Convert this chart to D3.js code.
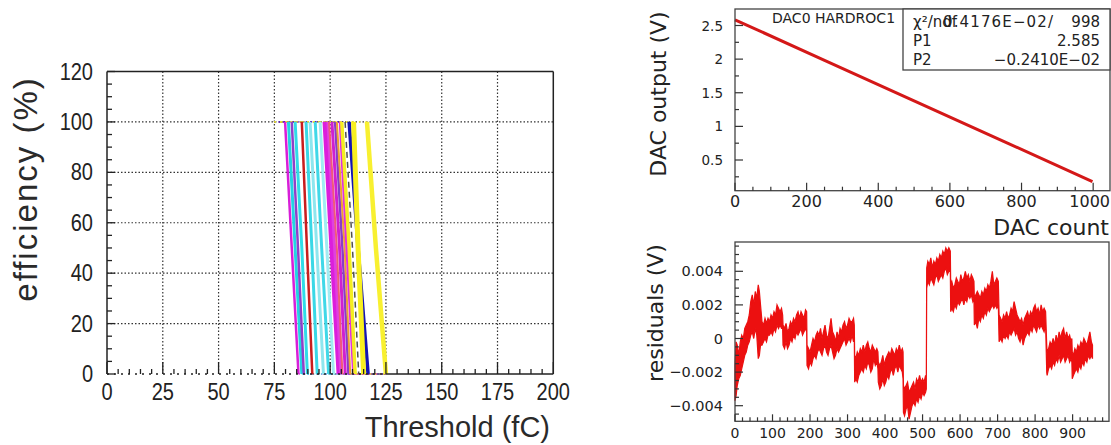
<!DOCTYPE html>
<html><head><meta charset="utf-8">
<script src="https://cdn.jsdelivr.net/npm/d3@7"></script>
<style>html,body{margin:0;padding:0;background:#fff;} svg{display:block}</style>
</head><body>
<svg id="c" width="1111" height="445"></svg>
<script>
// ---------------- DATA ----------------
// Left panel: efficiency vs threshold
const effTicks = [0, 20, 40, 60, 80, 100, 120];
const thrTicks = [0, 25, 50, 75, 100, 125, 150, 175, 200];
const curveEff = [100, 50, 0];               // efficiency levels (%) of each curve point
const curveTop = [79.8, 81.3, 82.8, 84.3, 87.3, 89.2, 91.0, 93.3, 95.5, 97.7, 99.0, 99.5, 100.8, 102.2, 103.0, 104.5, 105.2, 106.7, 108.5, 110.5, 116.5];
const curveMid = [82.8, 84.3, 85.6, 87.3, 89.6, 91.8, 94.0, 96.2, 98.5, 100.8, 102.0, 103.0, 104.2, 105.5, 106.5, 107.5, 108.5, 110.0, 112.5, 112.5, 120.5];
const curveBottom = [85.8, 87.3, 88.2, 89.8, 92.0, 94.2, 97.0, 99.3, 101.5, 104.0, 104.8, 105.5, 106.8, 108.2, 109.0, 110.5, 111.2, 112.8, 117.0, 115.0, 125.0];
// styles per curve
const curveColors = ["#d81ed8", "#22d4e4", "#9040c8", "#30dce8", "#c81e1e", "#3ad8e6", "#8ee6ee", "#40d8e8", "#a0ecf2", "#dc1edc", "#e040e0", "#f05a78", "#d020d0", "#8a3cc8", "#f0a030", "#e030e0", "#f4ee20", "#505050", "#1414b4", "#f8f020", "#f8f030"];
const curveWidths = [2.5, 3, 2.5, 3, 2.5, 3, 3, 3, 3, 5, 3, 2, 3, 2.5, 2, 3, 3.5, 1.5, 3.5, 5, 4.5];
const curveDash = [null, null, null, null, null, null, null, null, null, null, null, null, null, null, null, null, null, "6,4", null, null, null];

// Top right: DAC output vs DAC count
const dacCount = [0, 250, 500, 750, 998];
const dacOutput = [2.585, 1.983, 1.380, 0.778, 0.180];
const dacTicksY = [0.5, 1, 1.5, 2, 2.5];
const dacTickLabelsY = ["0.5", "1", "1.5", "2", "2.5"];
const dacTicksX = [0, 200, 400, 600, 800, 1000];
const fitTitle = "DAC0 HARDROC1";
const fitStats = [["χ²/ndf", "0.4176E−02/", "998"], ["P1", "", "2.585"], ["P2", "", "−0.2410E−02"]];

// Bottom right: residuals (mV) band: [DAC count, low, high]
const resTicksY = [-4, -2, 0, 2, 4];
const resTickLabelsY = ["−0.004", "−0.002", "0", "0.002", "0.004"];
const resTicksX = [0, 100, 200, 300, 400, 500, 600, 700, 800, 900];
const residualBand = [
 [0,-3.7,-1.6],[3,-3.4,-0.2],[6,-2.8,-0.4],[10,-2.4,-1.0],[14,-2.2,-0.2],[18,-1.8,0.2],[22,-1.4,0.0],[26,-1.0,0.6],
 [30,-0.8,0.8],[34,-0.4,1.0],[38,-0.2,1.4],[42,0.2,2.2],[46,0.4,2.6],[50,0.0,2.0],[54,0.6,2.8],[58,0.2,2.4],
 [62,-1.2,3.2],[65,-1.0,2.8],[68,-0.4,2.0],[72,-0.4,1.0],[76,-0.2,0.8],[80,0.0,1.2],[84,-0.2,0.9],[88,0.2,1.2],
 [92,0.2,1.0],[96,0.4,1.4],[100,0.2,1.2],[104,0.6,1.6],[108,0.4,1.4],[112,0.8,2.0],[116,0.6,1.8],[120,0.8,1.6],
 [124,0.6,1.8],[127,0.6,1.4],[128,-0.4,0.8],[132,-0.6,0.6],[136,-0.2,0.9],[140,-0.6,0.4],[144,-0.4,0.6],[148,0.0,1.0],
 [152,-0.2,0.8],[156,0.2,1.2],[160,0.0,1.0],[164,0.4,1.4],[168,0.2,1.6],[172,0.4,1.2],[176,0.6,1.6],[180,0.2,1.4],
 [184,0.4,1.2],[188,0.6,1.7],[191,0.4,1.6],[192,-1.6,-0.4],[196,-1.8,-0.6],[200,-1.4,-0.8],[204,-1.6,-0.4],[208,-1.2,0.0],
 [212,-1.0,-0.2],[216,-1.2,0.2],[220,-0.8,0.4],[224,-0.6,0.2],[228,-0.8,0.6],[232,-1.0,0.0],[236,-0.6,0.4],[240,-0.4,0.8],
 [244,-0.8,0.2],[248,-1.0,0.0],[252,-0.6,0.6],[256,-0.4,1.2],[260,-0.8,0.4],[264,-1.2,0.2],[268,-1.0,-0.2],[272,-0.6,0.4],
 [276,-0.8,0.0],[280,-0.6,0.6],[284,-0.4,0.4],[288,-0.2,0.8],[292,0.0,1.0],[296,-0.4,0.6],[300,-0.2,0.8],[304,0.0,1.2],
 [308,-0.2,1.0],[312,0.2,1.0],[316,-0.2,1.2],[318,0.0,0.8],[319,-2.6,-1.0],[322,-2.4,-1.2],[326,-2.6,-0.8],[330,-2.2,-1.0],
 [334,-2.0,-0.6],[338,-1.8,-0.8],[342,-2.0,-0.4],[346,-1.6,-0.8],[350,-1.8,-0.4],[354,-1.4,-0.2],[358,-1.6,-0.6],[362,-2.0,-0.8],
 [366,-1.8,-0.4],[370,-1.2,-0.6],[374,-1.6,-0.8],[378,-1.4,-0.6],[381,-1.8,-0.8],[382,-2.6,-1.4],[386,-3.0,-1.6],[390,-2.8,-1.4],
 [394,-2.4,-1.0],[398,-2.8,-1.6],[402,-2.6,-1.2],[406,-2.2,-1.0],[410,-2.4,-0.8],[414,-2.0,-1.0],[418,-1.8,-0.6],[422,-2.2,-0.8],
 [426,-1.8,-1.0],[430,-1.6,-0.6],[434,-2.0,-0.8],[438,-1.6,-0.4],[442,-1.8,-0.8],[446,-2.0,-0.6],[448,-2.4,-0.8],[449,-4.4,-2.8],
 [452,-4.6,-3.0],[456,-4.2,-2.8],[460,-4.0,-2.6],[464,-4.8,-3.2],[468,-4.4,-3.0],[472,-4.0,-2.8],[476,-3.8,-2.6],[480,-4.0,-3.0],
 [484,-3.6,-2.4],[488,-3.8,-2.6],[492,-3.4,-2.2],[496,-3.6,-2.6],[500,-3.2,-2.4],[504,-3.4,-2.6],[508,-3.2,-2.2],[510,-3.0,-2.4],
 [511,3.0,4.2],[514,3.4,4.6],[518,3.2,4.4],[522,3.6,4.8],[526,3.4,4.2],[530,3.2,4.6],[534,3.6,4.4],[538,3.8,4.8],
 [542,3.4,4.6],[546,3.6,5.0],[550,3.8,4.8],[554,3.6,5.2],[558,4.0,5.0],[562,4.2,5.4],[566,3.8,5.2],[570,4.0,5.4],
 [574,4.0,5.2],[575,1.6,3.2],[578,1.8,3.4],[582,1.6,3.0],[586,2.0,3.2],[590,1.8,3.6],[594,2.2,3.4],[598,2.0,3.2],
 [602,2.2,3.8],[606,2.4,3.4],[610,2.0,3.6],[614,2.4,4.0],[618,2.2,3.6],[622,2.6,3.8],[626,2.4,3.4],[630,2.6,3.8],
 [634,2.2,3.6],[637,2.4,3.4],[638,0.8,2.4],[642,1.0,2.6],[646,0.6,2.8],[650,1.2,2.6],[654,1.0,2.4],[658,1.4,2.8],
 [662,1.2,2.6],[666,1.6,3.0],[670,1.4,2.8],[674,1.8,3.2],[678,1.6,3.0],[682,1.8,3.4],[686,2.0,4.0],[690,1.8,3.2],
 [694,2.0,3.4],[698,1.8,3.6],[702,2.0,3.4],[704,-0.2,1.4],[708,0.0,1.2],[712,-0.2,1.0],[716,0.2,1.4],[720,0.0,1.2],
 [724,0.2,1.6],[728,0.0,1.2],[732,0.4,1.4],[736,0.2,1.8],[740,0.4,1.6],[744,0.6,2.2],[748,0.2,1.8],[752,0.4,1.4],
 [756,0.0,1.2],[760,-0.2,1.0],[764,0.2,1.2],[768,-0.4,0.8],[772,0.0,1.2],[776,0.2,1.4],[780,0.4,1.6],[784,0.2,1.2],
 [788,0.6,1.6],[792,0.4,1.4],[796,0.8,1.8],[800,0.6,2.0],[804,0.4,1.6],[808,0.8,1.8],[812,0.6,1.4],[816,0.8,2.0],
 [820,0.6,1.6],[824,0.4,1.8],[828,0.8,1.6],[831,-2.0,-0.4],[832,-2.2,-0.8],[836,-1.8,-0.6],[840,-1.6,-0.2],[844,-1.8,-0.4],
 [848,-1.4,0.0],[852,-1.6,-0.4],[856,-1.2,0.2],[860,-1.4,-0.2],[864,-1.0,0.4],[868,-1.4,0.0],[872,-1.2,0.4],[876,-1.0,0.6],
 [880,-1.4,0.0],[884,-1.2,0.4],[888,-1.0,0.0],[892,-1.4,0.2],[896,-1.2,-0.2],[898,-1.4,0.0],[899,-2.4,-0.8],[902,-2.2,-1.0],
 [906,-2.0,-0.6],[910,-1.8,-0.8],[914,-2.0,-0.4],[918,-1.6,-0.6],[922,-1.8,-0.2],[926,-1.4,-0.4],[930,-1.6,0.0],[934,-1.2,-0.2],
 [938,-1.4,-0.4],[942,-1.0,0.0],[946,-1.2,0.4],[950,-1.0,-0.2],[953,-1.2,-0.4]
];

// ---------------- DRAWING ----------------
const svg = d3.select("#c");
const AX = "#222";

// ===== LEFT PANEL =====
const xL = d3.scaleLinear().domain([0, 200]).range([107, 553.3]);
const yL = d3.scaleLinear().domain([0, 120]).range([374, 71.5]);
const gL = svg.append("g");

// grid
gL.selectAll("line.gx").data(thrTicks.filter(v => v > 0 && v < 200)).join("line")
  .attr("x1", d => xL(d)).attr("x2", d => xL(d)).attr("y1", yL(0)).attr("y2", yL(120))
  .attr("stroke", "#333").attr("stroke-width", 1.2).attr("stroke-dasharray", "1.5,2");
gL.selectAll("line.gy").data(effTicks.filter(v => v > 0 && v < 120)).join("line")
  .attr("x1", xL(0)).attr("x2", xL(200)).attr("y1", d => yL(d)).attr("y2", d => yL(d))
  .attr("stroke", "#333").attr("stroke-width", 1.2).attr("stroke-dasharray", "1.5,2");

// plateaus (marker rows)
curveTop.forEach((t, i) => {
  gL.append("line").attr("x1", xL(75)).attr("x2", xL(t)).attr("y1", yL(100)).attr("y2", yL(100))
    .attr("stroke", curveColors[i]).attr("stroke-width", 1.6).attr("stroke-dasharray", "1.5," + (3 + i % 3)).attr("opacity", 0.8);
  gL.append("line").attr("x1", xL(curveBottom[i])).attr("x2", xL(125)).attr("y1", yL(0)).attr("y2", yL(0))
    .attr("stroke", curveColors[i]).attr("stroke-width", 1.6).attr("stroke-dasharray", "1.5," + (3 + i % 3)).attr("opacity", 0.8);
});
const lineL = d3.line().x(d => xL(d[0])).y(d => yL(d[1]));
curveTop.forEach((t, i) => {
  const pts = [[t, curveEff[0]], [curveMid[i], curveEff[1]], [curveBottom[i], curveEff[2]]];
  gL.append("path").attr("d", lineL(pts)).attr("fill", "none")
    .attr("stroke", curveColors[i]).attr("stroke-width", curveWidths[i])
    .attr("stroke-dasharray", curveDash[i]).attr("stroke-linejoin", "round");
});

// frame
gL.append("line").attr("x1", xL(0)).attr("x2", xL(0)).attr("y1", yL(0)).attr("y2", yL(120)).attr("stroke", AX).attr("stroke-width", 1.5);
gL.append("line").attr("x1", xL(0)).attr("x2", xL(200)).attr("y1", yL(120)).attr("y2", yL(120)).attr("stroke", AX).attr("stroke-width", 1.5);
gL.append("line").attr("x1", xL(200)).attr("x2", xL(200)).attr("y1", yL(0)).attr("y2", yL(120)).attr("stroke", AX).attr("stroke-width", 1.5);
gL.append("line").attr("x1", xL(125)).attr("x2", xL(200)).attr("y1", yL(0)).attr("y2", yL(0)).attr("stroke", AX).attr("stroke-width", 1.5);
gL.append("line").attr("x1", xL(0)).attr("x2", xL(125)).attr("y1", yL(0)).attr("y2", yL(0)).attr("stroke", AX).attr("stroke-width", 1.5).attr("stroke-dasharray", "2,5");

// ticks
gL.selectAll("line.ty").data(d3.range(0, 121, 5)).join("line")
  .attr("x1", xL(0)).attr("x2", d => xL(0) + (d % 20 === 0 ? 8 : 5))
  .attr("y1", d => yL(d)).attr("y2", d => yL(d)).attr("stroke", AX).attr("stroke-width", 1.3);
gL.selectAll("line.tx").data(d3.range(0, 201, 5)).join("line")
  .attr("x1", d => xL(d)).attr("x2", d => xL(d))
  .attr("y1", yL(0)).attr("y2", d => yL(0) - (d % 25 === 0 ? 12 : 5)).attr("stroke", AX).attr("stroke-width", 1.3);

// tick labels
gL.selectAll("text.ly").data(effTicks).join("text")
  .attr("transform", d => `translate(93,${yL(d) + 8}) scale(0.87,1)`)
  .attr("text-anchor", "end").attr("font-family", "Liberation Sans, Arial, sans-serif")
  .attr("font-size", 23).attr("fill", "#222").text(d => d);
gL.selectAll("text.lx").data(thrTicks).join("text")
  .attr("transform", d => `translate(${xL(d)},400) scale(0.87,1)`)
  .attr("text-anchor", "middle").attr("font-family", "Liberation Sans, Arial, sans-serif")
  .attr("font-size", 23).attr("fill", "#222").text(d => d);

// titles
gL.append("text").attr("transform", "translate(37,189) rotate(-90)").attr("text-anchor", "middle")
  .attr("font-family", "Liberation Sans, Arial, sans-serif").attr("font-size", 33).attr("letter-spacing", 2)
  .attr("fill", "#2a2a2a").text("efficiency (%)");
gL.append("text").attr("x", 550).attr("y", 437).attr("text-anchor", "end")
  .attr("font-family", "Liberation Sans, Arial, sans-serif").attr("font-size", 29)
  .attr("fill", "#2a2a2a").text("Threshold (fC)");

// ===== TOP RIGHT =====
const FR = "DejaVu Sans, sans-serif";
const xT = d3.scaleLinear().domain([0, 1047]).range([735, 1110]);
const yT = d3.scaleLinear().domain([0.5, 2.5]).range([160, 25.5]);
const gT = svg.append("g");
const tTop = 9, tBot = 190.7;
const yTmin = yT.invert(tBot), yTmax = yT.invert(tTop);

gT.append("path").attr("d", d3.line().x(d => xT(d[0])).y(d => yT(d[1]))(dacCount.map((c, i) => [c, dacOutput[i]])))
  .attr("fill", "none").attr("stroke", "#d41818").attr("stroke-width", 3);

gT.append("rect").attr("x", 735).attr("y", tTop).attr("width", 1110 - 735).attr("height", tBot - tTop)
  .attr("fill", "none").attr("stroke", "#444").attr("stroke-width", 1.3);

gT.selectAll("line.ty").data(d3.range(0.25, 2.76, 0.25).filter(v => v > yTmin && v < yTmax)).join("line")
  .attr("x1", 735).attr("x2", d => 735 + (Math.abs(d * 2 - Math.round(d * 2)) < 1e-6 ? 8 : 4))
  .attr("y1", d => yT(d)).attr("y2", d => yT(d)).attr("stroke", "#333").attr("stroke-width", 1.2);
gT.selectAll("line.tx").data(d3.range(0, 1047, 50)).join("line")
  .attr("x1", d => xT(d)).attr("x2", d => xT(d))
  .attr("y1", tBot).attr("y2", d => tBot - (d % 200 === 0 ? 8 : 4)).attr("stroke", "#333").attr("stroke-width", 1.2);

gT.selectAll("text.ly").data(dacTicksY).join("text")
  .attr("x", 723).attr("y", d => yT(d) + 5).attr("text-anchor", "end")
  .attr("font-family", FR).attr("font-size", 13.5).attr("fill", "#222").text((d, i) => dacTickLabelsY[i]);
gT.selectAll("text.lx").data(dacTicksX).join("text")
  .attr("x", (d, i) => i === dacTicksX.length - 1 ? 1110 : xT(d)).attr("y", 207)
  .attr("text-anchor", (d, i) => i === dacTicksX.length - 1 ? "end" : "middle")
  .attr("font-family", FR).attr("font-size", 16).attr("fill", "#222").text(d => d);

gT.append("text").attr("transform", "translate(666,94) rotate(-90)").attr("text-anchor", "middle")
  .attr("font-family", FR).attr("font-size", 22).attr("fill", "#222").text("DAC output (V)");
gT.append("text").attr("x", 1109).attr("y", 235).attr("text-anchor", "end")
  .attr("font-family", FR).attr("font-size", 22).attr("fill", "#222").text("DAC count");

gT.append("text").attr("x", 772).attr("y", 23).attr("font-family", FR).attr("font-size", 14)
  .attr("fill", "#222").text(fitTitle);

// stats box
gT.append("rect").attr("x", 903).attr("y", tTop).attr("width", 1110 - 903).attr("height", 70 - tTop)
  .attr("fill", "#fff").attr("stroke", "#444").attr("stroke-width", 1.3);
const statY = [26.5, 45.5, 65];
fitStats.forEach((row, i) => {
  gT.append("text").attr("x", 913).attr("y", statY[i]).attr("font-family", FR).attr("font-size", 15)
    .attr("fill", "#222").text(row[0]);
  if (row[1]) {
    gT.append("text").attr("x", 943).attr("y", statY[i]).attr("font-family", FR).attr("font-size", 15)
      .attr("textLength", 110).attr("lengthAdjust", "spacing").attr("fill", "#222").text(row[1]);
  }
  gT.append("text").attr("x", 1100).attr("y", statY[i]).attr("text-anchor", "end").attr("font-family", FR)
    .attr("font-size", 15).attr("fill", "#222").text(row[2]);
});

// ===== BOTTOM RIGHT =====
const xR = d3.scaleLinear().domain([0, 997]).range([735, 1109]);
const yR = d3.scaleLinear().domain([-4, 4]).range([405.7, 271.3]);
const rTop = 242, rBot = 421.3;
const yRmin = yR.invert(rBot), yRmax = yR.invert(rTop);
const gR = svg.append("g");

gR.append("path").attr("d", d3.area().x(d => xR(d[0])).y0(d => yR(d[1])).y1(d => yR(d[2]))(residualBand))
  .attr("fill", "#ec1010").attr("stroke", "#ec1010").attr("stroke-width", 1.2).attr("stroke-linejoin", "miter");

gR.append("rect").attr("x", 735).attr("y", rTop).attr("width", 1109 - 735).attr("height", rBot - rTop)
  .attr("fill", "none").attr("stroke", "#444").attr("stroke-width", 1.3);

gR.selectAll("line.ty").data(d3.range(-5, 6, 0.5).filter(v => v > yRmin && v < yRmax)).join("line")
  .attr("x1", 735).attr("x2", d => 735 + (Math.abs(d / 2 - Math.round(d / 2)) < 1e-6 ? 8 : 4))
  .attr("y1", d => yR(d)).attr("y2", d => yR(d)).attr("stroke", "#333").attr("stroke-width", 1.2);
gR.selectAll("line.tx").data(d3.range(0, 997, 20)).join("line")
  .attr("x1", d => xR(d)).attr("x2", d => xR(d))
  .attr("y1", rBot).attr("y2", d => rBot - (d % 100 === 0 ? 7 : 4)).attr("stroke", "#333").attr("stroke-width", 1.2);

gR.selectAll("text.ly").data(resTicksY).join("text")
  .attr("x", 723).attr("y", d => yR(d) + 5).attr("text-anchor", "end")
  .attr("font-family", FR).attr("font-size", 14.5).attr("fill", "#222").text((d, i) => resTickLabelsY[i]);
gR.selectAll("text.lx").data(resTicksX).join("text")
  .attr("x", d => xR(d)).attr("y", 438).attr("text-anchor", "middle")
  .attr("font-family", FR).attr("font-size", 14).attr("fill", "#222").text(d => d);

gR.append("text").attr("transform", "translate(663,313) rotate(-90)").attr("text-anchor", "middle")
  .attr("font-family", FR).attr("font-size", 22).attr("fill", "#222").text("residuals (V)");
</script>
</body></html>
